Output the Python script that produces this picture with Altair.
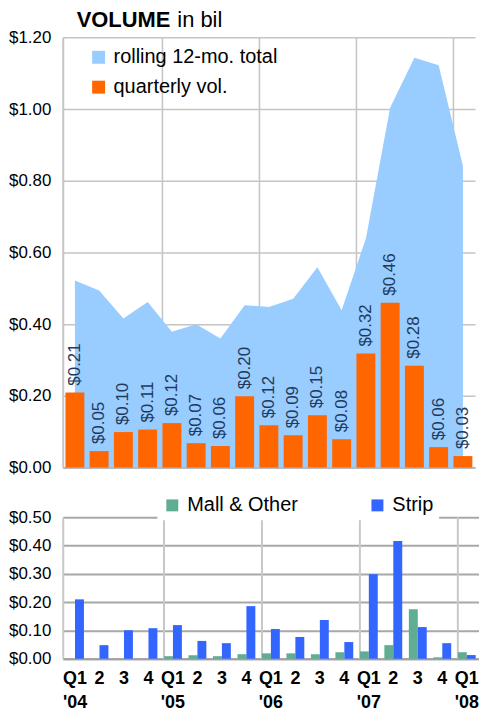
import json
import altair as alt
import pandas as pd

# ---- data ----
quarter_idx = list(range(17))
q_line1 = ["Q1", "2", "3", "4", "Q1", "2", "3", "4", "Q1", "2", "3", "4", "Q1", "2", "3", "4", "Q1"]
q_line2 = ["'04", "", "", "", "'05", "", "", "", "'06", "", "", "", "'07", "", "", "", "'08"]
rolling_12mo = [0.522, 0.494, 0.416, 0.462, 0.379, 0.400, 0.360, 0.453, 0.448,
                0.471, 0.559, 0.439, 0.639, 1.004, 1.143, 1.122, 0.842]
quarterly_vol = [0.209, 0.046, 0.099, 0.106, 0.124, 0.068, 0.060, 0.199, 0.118,
                 0.090, 0.146, 0.079, 0.318, 0.460, 0.284, 0.057, 0.032]
mall_other = [0.0, 0.0, 0.0, 0.0, 0.009, 0.012, 0.009, 0.016, 0.019,
              0.019, 0.016, 0.023, 0.026, 0.048, 0.175, 0.005, 0.023]
strip = [0.210, 0.048, 0.101, 0.108, 0.119, 0.063, 0.055, 0.186, 0.105,
         0.077, 0.137, 0.059, 0.299, 0.416, 0.112, 0.055, 0.013]
year_starts = [4, 8, 12, 16]
top_ticks = [0.0, 0.2, 0.4, 0.6, 0.8, 1.0, 1.2]
bottom_ticks = [0.0, 0.1, 0.2, 0.3, 0.4, 0.5]
top_series = ["rolling 12-mo. total", "quarterly vol."]
top_colors = ["#99ccff", "#ff6600"]
bottom_series = ["Mall & Other", "Strip"]
bottom_colors = ["#5fae94", "#3366ff"]

FONT = "Liberation Sans"
TOP_W, TOP_H = 414, 432
BOT_W, BOT_H = 418, 142

top_df = pd.DataFrame({"idx": quarter_idx, "rolling": rolling_12mo, "quarterly": quarterly_vol})
years_df = pd.DataFrame({"idx": year_starts})

# ---- top chart ----
x_top_scale = alt.Scale(paddingInner=0.22, paddingOuter=0.11)
x_top_axis = alt.Axis(labels=False, ticks=False, title=None, grid=False,
                      domainColor="#b8b8b8", domainWidth=2)
y_top = alt.Y("v:Q", scale=alt.Scale(domain=[0, 1.2], nice=False),
              axis=alt.Axis(values=top_ticks, format="$.2f", labelFontSize=17,
                            labelPadding=12, ticks=False, title=None,
                            gridColor="#c4c4c4", gridWidth=1.5,
                            domainColor="#c4c4c4", domainWidth=2, labelColor="#000"))
color_top = alt.Color("series:N",
                      scale=alt.Scale(domain=top_series, range=top_colors),
                      legend=alt.Legend(orient="none", legendX=26, legendY=10, title=None,
                                        symbolType="square", symbolSize=169,
                                        symbolStrokeWidth=0, labelFontSize=20,
                                        labelLimit=400,
                                        labelOffset=5, rowPadding=10, padding=0))

year_rules_top = alt.Chart(years_df).mark_rule(color="#c4c4c4", strokeWidth=1.5).encode(
    x=alt.X("idx:O", bandPosition=0, scale=x_top_scale, axis=x_top_axis)
)

area = alt.Chart(top_df).transform_calculate(
    series="'rolling 12-mo. total'", v="datum.rolling"
).mark_area(opacity=1).encode(
    x=alt.X("idx:O", scale=x_top_scale, axis=x_top_axis),
    y=y_top,
    color=color_top,
)

bars = alt.Chart(top_df).transform_calculate(
    series="'quarterly vol.'", v="datum.quarterly"
).mark_bar().encode(
    x=alt.X("idx:O", scale=x_top_scale, axis=x_top_axis),
    y=y_top,
    color=color_top,
)

labels = alt.Chart(top_df).transform_calculate(v="datum.quarterly").mark_text(
    angle=270, align="left", baseline="middle", dx=7, fontSize=17, color="#1f3a5c"
).encode(
    x=alt.X("idx:O", scale=x_top_scale, axis=x_top_axis),
    y=y_top,
    text=alt.Text("quarterly:Q", format="$.2f"),
)

title_df = pd.DataFrame({"a": ["VOLUME"], "b": ["in bil"]})
title_bold = alt.Chart(title_df).mark_text(
    fontSize=22, fontWeight="bold", align="left", baseline="alphabetic", color="#000"
).encode(x=alt.value(14), y=alt.value(-10), text="a:N")
title_norm = alt.Chart(title_df).mark_text(
    fontSize=22, align="left", baseline="alphabetic", color="#000"
).encode(x=alt.value(115), y=alt.value(-10), text="b:N")

top = alt.layer(year_rules_top, area, bars, labels, title_bold, title_norm).properties(
    width=TOP_W, height=TOP_H
)

# ---- bottom chart ----
bot_df = pd.DataFrame({
    "idx": quarter_idx * 2,
    "series": [bottom_series[0]] * 17 + [bottom_series[1]] * 17,
    "value": mall_other + strip,
})
label_pairs = [[a, b] for a, b in zip(q_line1, q_line2)]
label_expr = json.dumps(label_pairs) + "[datum.value]"

x_bot_scale = alt.Scale(paddingInner=0.27, paddingOuter=0.135)
x_bot_axis = alt.Axis(labelExpr=label_expr, labelFontSize=18, labelFontWeight="bold",
                      labelAngle=0, ticks=False, title=None, grid=False,
                      domainColor="#a0a0a0", domainWidth=2, labelPadding=20,
                      labelLineHeight=24, labelBaseline="middle", labelColor="#000")

year_rules_bot = alt.Chart(years_df).mark_rule(color="#c8c8c8", strokeWidth=2).encode(
    x=alt.X("idx:O", bandPosition=0, scale=x_bot_scale, axis=x_bot_axis)
)

bot_bars = alt.Chart(bot_df).mark_bar().encode(
    x=alt.X("idx:O", scale=x_bot_scale, axis=x_bot_axis),
    xOffset=alt.XOffset("series:N", sort=bottom_series),
    y=alt.Y("value:Q", scale=alt.Scale(domain=[0, 0.5], nice=False),
            axis=alt.Axis(values=bottom_ticks, format="$.2f", labelFontSize=17,
                          labelPadding=12, ticks=False, title=None,
                          gridColor="#a8a8a8", gridWidth=2,
                          domainColor="#c8c8c8", domainWidth=2, labelColor="#000")),
    color=alt.Color("series:N",
                    scale=alt.Scale(domain=bottom_series, range=bottom_colors),
                    legend=alt.Legend(orient="none", direction="horizontal",
                                      legendX=95, legendY=-27, title=None,
                                      symbolType="square", symbolSize=144,
                                      symbolStrokeWidth=0, labelFontSize=20,
                                      labelOffset=5, columnPadding=69,
                                      fillColor="white", padding=5)),
)

bottom = alt.layer(year_rules_bot, bot_bars).properties(width=BOT_W, height=BOT_H)

chart = alt.vconcat(top, bottom, spacing=15).properties(padding=0).resolve_scale(
    color="independent", x="independent"
).configure(font=FONT).configure_view(stroke=None)

chart.save("out.html", embed_options={"renderer": "svg", "actions": False})
